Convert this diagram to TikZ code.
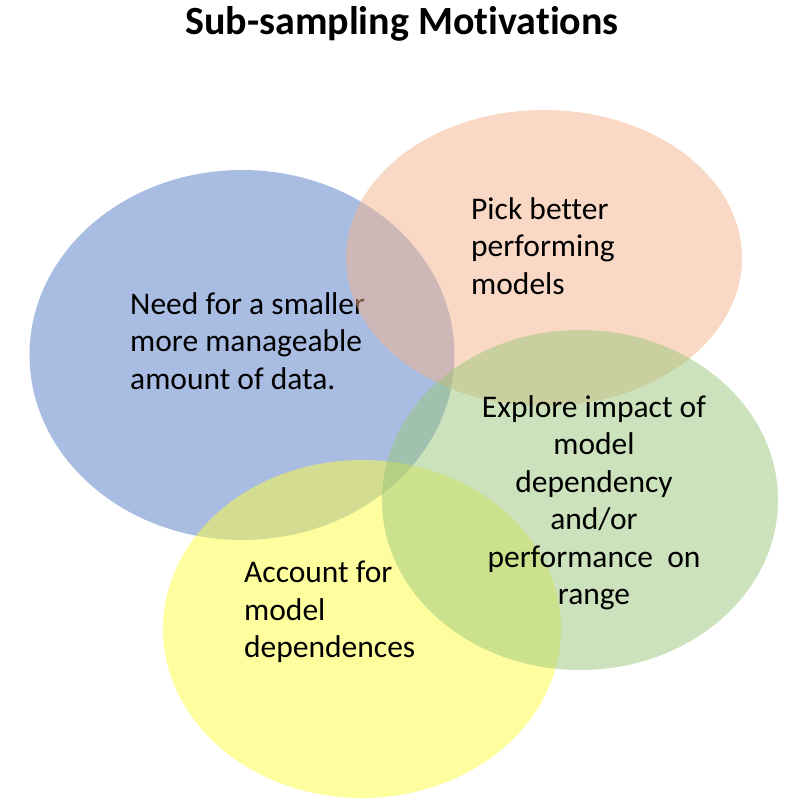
\documentclass[tikz,border=0pt]{standalone}
\usepackage{fontspec}
\setmainfont{Carlito}[Ligatures=CommonOff]
\usetikzlibrary{shapes.geometric}
\definecolor{vennblue}{RGB}{83,123,199}
\definecolor{vennorange}{RGB}{243,179,139}
\definecolor{vennyellow}{RGB}{255,253,61}
\definecolor{venngreen}{RGB}{153,197,121}
\begin{document}
\begin{tikzpicture}[x=1pt,y=-1pt,
 venn/.style={ellipse,draw=none,fill opacity=.5,inner sep=0pt},
 lbl/.style={font=\fontsize{31.5}{37.5}\selectfont,inner sep=0pt}]
 \useasboundingbox (0,0) rectangle (811,809);
 \node[font=\fontsize{40}{44}\selectfont\bfseries] (title) at (402,24) {Sub-sampling Motivations};
 % circles, back to front
 \node[venn,fill=vennblue,minimum width=425pt,minimum height=370pt] (need) at (242,355) {};
 \node[lbl,anchor=west,align=left] (needtxt) at (130,341) {Need for a smaller\\more manageable\\amount of data.};
 \node[venn,fill=vennorange,minimum width=396pt,minimum height=296pt] (pick) at (544,258) {};
 \node[lbl,anchor=west,align=left] (picktxt) at (471,246) {Pick better\\performing\\models};
 \node[venn,fill=vennyellow,minimum width=398pt,minimum height=338pt] (acct) at (362,629) {};
 \node[lbl,anchor=west,align=left] (accttxt) at (244,612) {Account for\\model\\dependences};
 \node[venn,fill=venngreen,minimum width=396pt,minimum height=340pt] (expl) at (580,500) {};
 \node[lbl,align=center] (expltxt) at (594,503) {Explore impact of\\model\\dependency\\and/or\\performance~~on\\range};
\end{tikzpicture}
\end{document}
